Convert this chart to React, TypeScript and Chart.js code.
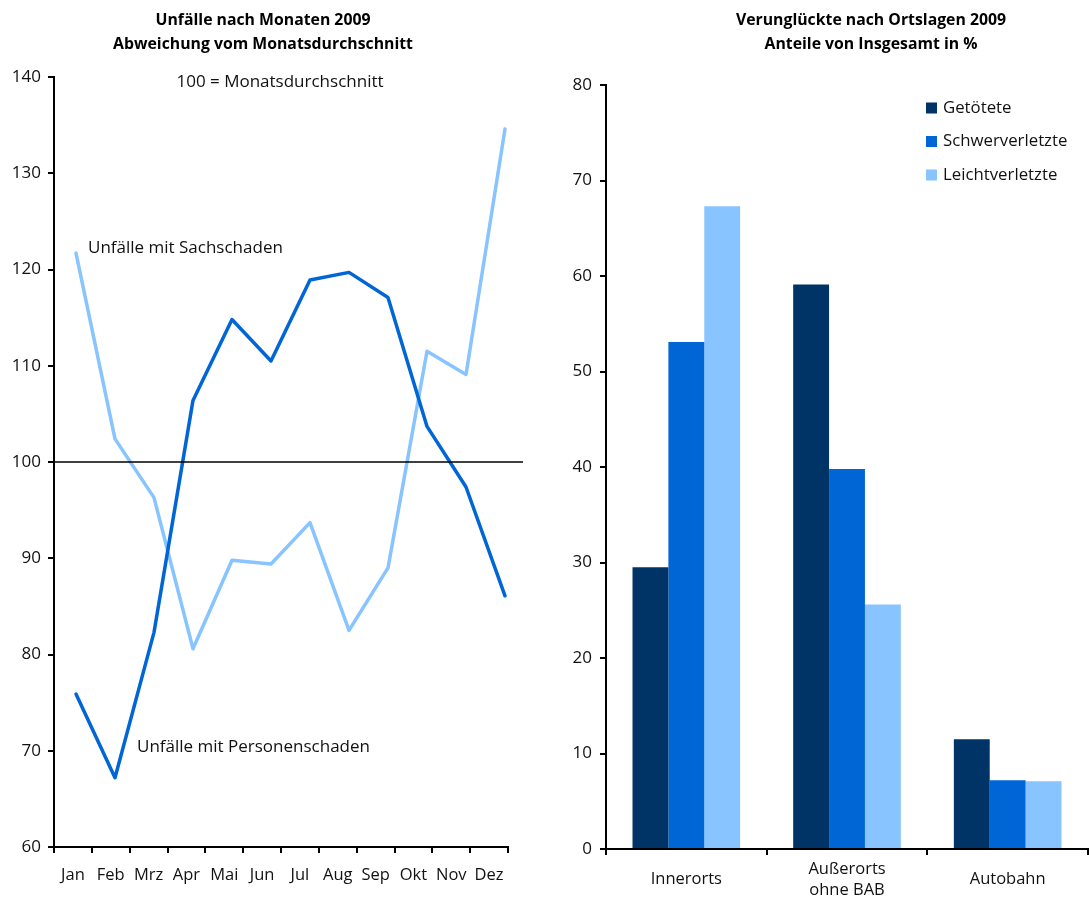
import React, { useEffect, useRef } from "react";
import { Chart, registerables } from "chart.js";
Chart.register(...registerables);

const months = ["Jan", "Feb", "Mrz", "Apr", "Mai", "Jun", "Jul", "Aug", "Sep", "Okt", "Nov", "Dez"];
const personenschaden = [75.9, 67.2, 82.3, 106.4, 114.8, 110.5, 118.9, 119.7, 117.1, 103.7, 97.4, 86.1];
const sachschaden = [121.7, 102.4, 96.3, 80.6, 89.8, 89.4, 93.7, 82.5, 89.0, 111.5, 109.1, 134.6];
const leftTitle = ["Unfälle nach Monaten 2009", "Abweichung vom Monatsdurchschnitt"];
const rightTitle = ["Verunglückte nach Ortslagen 2009", "Anteile von Insgesamt in %"];
const seriesNamesLeft = ["Unfälle mit Personenschaden", "Unfälle mit Sachschaden"];
const referenceNote = "100 = Monatsdurchschnitt";
const referenceValue = 100;

const ortslagen = ["Innerorts", ["Außerorts", "ohne BAB"], "Autobahn"];
const getoetete = [29.5, 59.1, 11.5];
const schwerverletzte = [53.1, 39.8, 7.2];
const leichtverletzte = [67.3, 25.6, 7.1];
const seriesNamesRight = ["Getötete", "Schwerverletzte", "Leichtverletzte"];

const FONT = "'Open Sans', 'Noto Sans', sans-serif";
const DARK = "#003366";
const MID = "#0066d6";
const LIGHT = "#88c4ff";

function titlePlugin(lines: string[], cx: number) {
  return {
    id: "customTitle",
    afterDraw(chart: any) {
      const ctx = chart.ctx;
      ctx.save();
      ctx.fillStyle = "#000";
      ctx.font = `bold 15.8px ${FONT}`;
      ctx.textAlign = "center";
      ctx.textBaseline = "middle";
      lines.forEach((l, i) => ctx.fillText(l, cx, 20 + i * 24));
      ctx.restore();
    },
  };
}

function LeftChart() {
  const ref = useRef<HTMLCanvasElement>(null);
  useEffect(() => {
    const annot = {
      id: "annot",
      afterDatasetsDraw(chart: any) {
        const { ctx, chartArea, scales } = chart;
        const y = scales.y.getPixelForValue(referenceValue);
        ctx.save();
        ctx.strokeStyle = "#000";
        ctx.lineWidth = 1.4;
        ctx.beginPath();
        ctx.moveTo(chartArea.left, y);
        ctx.lineTo(chartArea.right + 15, y);
        ctx.stroke();
        ctx.fillStyle = "#111";
        ctx.font = `17px ${FONT}`;
        ctx.textBaseline = "middle";
        ctx.textAlign = "center";
        ctx.fillText(referenceNote, 280, 82);
        ctx.textAlign = "left";
        ctx.fillText(seriesNamesLeft[1], chartArea.left + 34, scales.y.getPixelForValue(122.2));
        ctx.fillText(seriesNamesLeft[0], chartArea.left + 83, scales.y.getPixelForValue(70.4));
        ctx.restore();
      },
    };
    const chart = new Chart(ref.current!, {
      type: "line",
      data: {
        labels: months,
        datasets: [
          {
            label: seriesNamesLeft[0],
            data: personenschaden.map((v, i) => ({ x: i, y: v })),
            xAxisID: "xd",
            borderColor: MID,
            borderWidth: 3.5,
            pointRadius: 0,
            tension: 0,
            borderCapStyle: "round",
            borderJoinStyle: "round",
          },
          {
            label: seriesNamesLeft[1],
            data: sachschaden.map((v, i) => ({ x: i, y: v })),
            xAxisID: "xd",
            borderColor: LIGHT,
            borderWidth: 3.5,
            pointRadius: 0,
            tension: 0,
            borderCapStyle: "round",
            borderJoinStyle: "round",
          },
        ],
      },
      options: {
        responsive: false,
        animation: false,
        devicePixelRatio: 1,
        layout: { padding: { left: 0, top: 77, right: 37, bottom: 0 } },
        plugins: { legend: { display: false }, tooltip: { enabled: false }, title: { display: false } },
        scales: {
          x: {
            type: "category",
            offset: true,
            position: "bottom",
            afterFit: (s: any) => { s.height = 53; },
            grid: { offset: true, drawOnChartArea: false, drawTicks: true, tickLength: 6, color: "#000", lineWidth: 2 },
            border: { color: "#000", width: 2 },
            ticks: { color: "#111", font: { family: FONT, size: 16.5 }, padding: 12, maxRotation: 0, autoSkip: false },
          },
          xd: {
            type: "linear",
            display: false,
            min: -0.564,
            max: 11.077,
          },
          y: {
            min: 60,
            max: 140,
            afterFit: (s: any) => { s.width = 54; },
            grid: { drawOnChartArea: false, drawTicks: true, tickLength: 6, color: "#000", lineWidth: 2 },
            border: { color: "#000", width: 2 },
            ticks: { stepSize: 10, color: "#111", font: { family: FONT, size: 17 }, padding: 7 },
          },
        },
      } as any,
      plugins: [annot, titlePlugin(leftTitle, 263)],
    });
    return () => chart.destroy();
  }, []);
  return <canvas ref={ref} width={545} height={900} style={{ position: "absolute", left: 0, top: 0, width: 545, height: 900 }} />;
}

function RightChart() {
  const ref = useRef<HTMLCanvasElement>(null);
  useEffect(() => {
    const legendPlugin = {
      id: "customLegend",
      afterDraw(chart: any) {
        const ctx = chart.ctx;
        ctx.save();
        ctx.font = `16.8px ${FONT}`;
        ctx.textBaseline = "middle";
        ctx.textAlign = "left";
        chart.data.datasets.forEach((ds: any, i: number) => {
          const cy = 108 + i * 33.5;
          ctx.fillStyle = ds.backgroundColor;
          ctx.fillRect(381, cy - 5.5, 11, 11);
          ctx.fillStyle = "#111";
          ctx.fillText(ds.label, 398, cy);
        });
        ctx.restore();
      },
    };
    const chart = new Chart(ref.current!, {
      type: "bar",
      data: {
        labels: ortslagen as any,
        datasets: [
          { label: seriesNamesRight[0], data: getoetete, backgroundColor: DARK },
          { label: seriesNamesRight[1], data: schwerverletzte, backgroundColor: MID },
          { label: seriesNamesRight[2], data: leichtverletzte, backgroundColor: LIGHT },
        ],
      },
      options: {
        responsive: false,
        animation: false,
        devicePixelRatio: 1,
        layout: { padding: { left: 0, top: 85, right: 1, bottom: 0 } },
        datasets: { bar: { categoryPercentage: 0.67, barPercentage: 1.0 } },
        plugins: { legend: { display: false }, tooltip: { enabled: false }, title: { display: false } },
        scales: {
          x: {
            afterFit: (s: any) => { s.height = 51; },
            grid: { offset: true, drawOnChartArea: false, drawTicks: true, tickLength: 6, color: "#000", lineWidth: 2 },
            border: { color: "#000", width: 2 },
            ticks: { color: "#111", font: { family: FONT, size: 16.5, lineHeight: 1.3 }, padding: 14, maxRotation: 0, autoSkip: false, crossAlign: "center" },
          },
          y: {
            min: 0,
            max: 80,
            afterFit: (s: any) => { s.width = 61; },
            grid: { drawOnChartArea: false, drawTicks: true, tickLength: 6, color: "#000", lineWidth: 2 },
            border: { color: "#000", width: 2 },
            ticks: { stepSize: 10, color: "#111", font: { family: FONT, size: 17 }, padding: 8 },
          },
        },
      } as any,
      plugins: [legendPlugin, titlePlugin(rightTitle, 326)],
    });
    return () => chart.destroy();
  }, []);
  return <canvas ref={ref} width={544} height={900} style={{ position: "absolute", left: 545, top: 0, width: 544, height: 900 }} />;
}

export default function App() {
  return (
    <div style={{ position: "absolute", left: 0, top: 0, width: 1089, height: 900, background: "#fff" }}>
      <LeftChart />
      <RightChart />
    </div>
  );
}
